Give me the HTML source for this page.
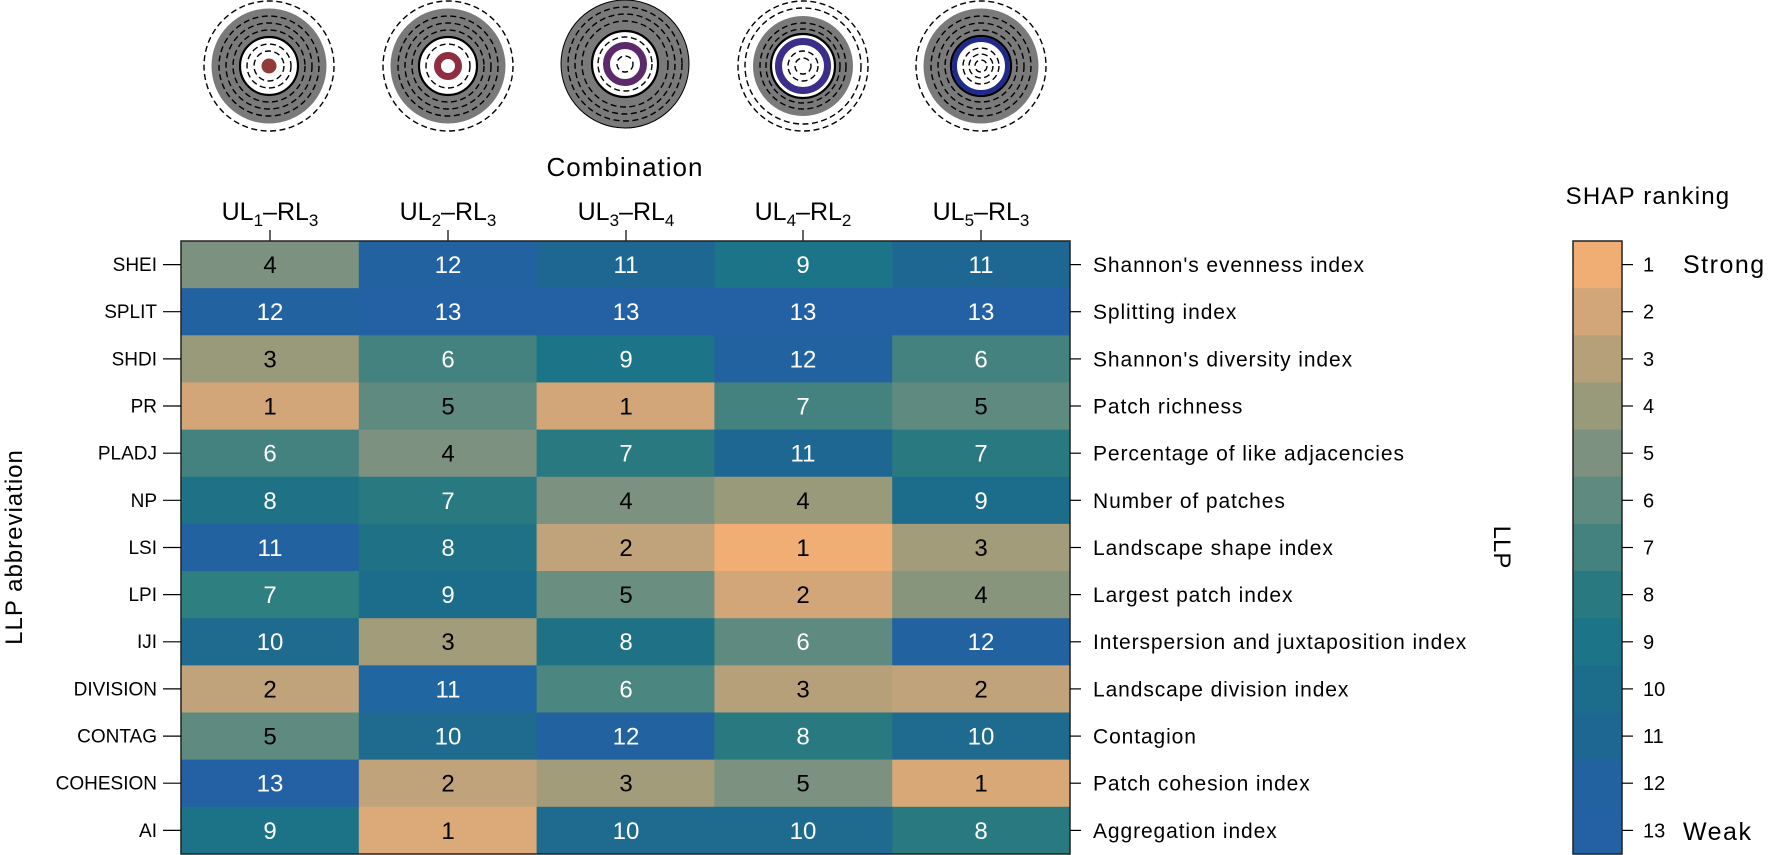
<!DOCTYPE html>
<html><head><meta charset="utf-8"><style>
html,body{margin:0;padding:0;background:#fff}
svg{display:block;font-family:"Liberation Sans",sans-serif}
.c{fill:none;stroke:#000;stroke-width:1.4;stroke-dasharray:6 3.5}
.n{font-size:24px;text-anchor:middle}
.w{fill:#fff}
.l{font-size:19px;text-anchor:end}
.r{font-size:21px;letter-spacing:0.9px}
</style></head><body>
<svg width="1773" height="855" viewBox="0 0 1773 855" xmlns="http://www.w3.org/2000/svg">
<g transform="translate(269,66)">
<circle class="c" r="65"/><circle r="57.5" fill="#7a7a7a"/><circle class="c" r="50"/><circle class="c" r="43"/><circle class="c" r="36"/>
<circle r="29" fill="#fff" stroke="#000" stroke-width="2.2"/><circle class="c" r="22"/><circle class="c" r="15"/><circle r="7.5" fill="#8f3b3b"/></g>
<g transform="translate(448,66)">
<circle class="c" r="65"/><circle r="57.5" fill="#7a7a7a"/><circle class="c" r="50"/><circle class="c" r="43"/><circle class="c" r="36"/>
<circle r="29" fill="#fff" stroke="#000" stroke-width="2.2"/><circle class="c" r="22"/><circle r="10.5" fill="none" stroke="#8e2e40" stroke-width="7"/></g>
<g transform="translate(625,64)">
<circle r="64" fill="#7a7a7a" stroke="#000" stroke-width="1"/><circle class="c" r="57"/><circle class="c" r="50"/><circle class="c" r="43"/>
<circle r="33" fill="#fff" stroke="#000" stroke-width="2.2"/><circle class="c" r="27"/><circle r="18.5" fill="none" stroke="#5c2a6a" stroke-width="7"/><circle class="c" r="8"/></g>
<g transform="translate(803,66)">
<circle class="c" r="65"/><circle class="c" r="58"/><circle r="50" fill="#7a7a7a"/><circle class="c" r="43"/><circle class="c" r="37"/>
<circle r="32" fill="#fff" stroke="#000" stroke-width="2.2"/><circle r="24.5" fill="none" stroke="#3b2d8a" stroke-width="7"/><circle class="c" r="15"/><circle class="c" r="8"/></g>
<g transform="translate(981,66)">
<circle class="c" r="65"/><circle r="57.5" fill="#7a7a7a"/><circle class="c" r="50"/><circle class="c" r="43"/><circle class="c" r="36"/>
<circle r="30" fill="#fff" stroke="#000" stroke-width="2.2"/><circle r="26.5" fill="none" stroke="#1f2a8c" stroke-width="5"/><circle class="c" r="18"/><circle class="c" r="12"/><circle class="c" r="6"/></g>

<text x="625" y="176" font-size="26" letter-spacing="1" text-anchor="middle">Combination</text>
<g font-size="25" text-anchor="middle">
<text x="270" y="220">UL<tspan font-size="17" dy="6">1</tspan><tspan dy="-6">–RL</tspan><tspan font-size="17" dy="6">3</tspan></text>
<text x="448" y="220">UL<tspan font-size="17" dy="6">2</tspan><tspan dy="-6">–RL</tspan><tspan font-size="17" dy="6">3</tspan></text>
<text x="626" y="220">UL<tspan font-size="17" dy="6">3</tspan><tspan dy="-6">–RL</tspan><tspan font-size="17" dy="6">4</tspan></text>
<text x="803" y="220">UL<tspan font-size="17" dy="6">4</tspan><tspan dy="-6">–RL</tspan><tspan font-size="17" dy="6">2</tspan></text>
<text x="981" y="220">UL<tspan font-size="17" dy="6">5</tspan><tspan dy="-6">–RL</tspan><tspan font-size="17" dy="6">3</tspan></text>
</g>
<g stroke="#000" stroke-width="1.2">
<line x1="270" y1="230" x2="270" y2="241"/><line x1="448" y1="230" x2="448" y2="241"/><line x1="626" y1="230" x2="626" y2="241"/><line x1="803" y1="230" x2="803" y2="241"/><line x1="981" y1="230" x2="981" y2="241"/>
</g>

<g transform="translate(0,241)">
<rect x="181" width="178.8" height="48" fill="#7c917f"/><rect x="358.8" width="178.8" height="48" fill="#2362a0"/><rect x="536.6" width="178.8" height="48" fill="#1f6793"/><rect x="714.4" width="178.8" height="48" fill="#1b7487"/><rect x="892.2" width="177.8" height="48" fill="#1f6793"/>
<text class="n" x="270" y="32">4</text><text class="n w" x="448" y="32">12</text><text class="n w" x="626" y="32">11</text><text class="n w" x="803" y="32">9</text><text class="n w" x="981" y="32">11</text>
<text class="l" x="157" y="30">SHEI</text><text class="r" x="1093" y="31">Shannon's evenness index</text></g>
<g transform="translate(0,288.15)">
<rect x="181" width="178.8" height="48" fill="#2362a0"/><rect x="358.8" width="178.8" height="48" fill="#2460a4"/><rect x="536.6" width="178.8" height="48" fill="#2460a4"/><rect x="714.4" width="178.8" height="48" fill="#2460a4"/><rect x="892.2" width="177.8" height="48" fill="#2460a4"/>
<text class="n w" x="270" y="32">12</text><text class="n w" x="448" y="32">13</text><text class="n w" x="626" y="32">13</text><text class="n w" x="803" y="32">13</text><text class="n w" x="981" y="32">13</text>
<text class="l" x="157" y="30">SPLIT</text><text class="r" x="1093" y="31">Splitting index</text></g>
<g transform="translate(0,335.3)">
<rect x="181" width="178.8" height="48" fill="#999a7a"/><rect x="358.8" width="178.8" height="48" fill="#43827e"/><rect x="536.6" width="178.8" height="48" fill="#1b7487"/><rect x="714.4" width="178.8" height="48" fill="#2362a0"/><rect x="892.2" width="177.8" height="48" fill="#43827e"/>
<text class="n" x="270" y="32">3</text><text class="n w" x="448" y="32">6</text><text class="n w" x="626" y="32">9</text><text class="n w" x="803" y="32">12</text><text class="n w" x="981" y="32">6</text>
<text class="l" x="157" y="30">SHDI</text><text class="r" x="1093" y="31">Shannon's diversity index</text></g>
<g transform="translate(0,382.45)">
<rect x="181" width="178.8" height="48" fill="#d2a679"/><rect x="358.8" width="178.8" height="48" fill="#5f8a7f"/><rect x="536.6" width="178.8" height="48" fill="#d2a679"/><rect x="714.4" width="178.8" height="48" fill="#43827e"/><rect x="892.2" width="177.8" height="48" fill="#5f8a7f"/>
<text class="n" x="270" y="32">1</text><text class="n" x="448" y="32">5</text><text class="n" x="626" y="32">1</text><text class="n w" x="803" y="32">7</text><text class="n" x="981" y="32">5</text>
<text class="l" x="157" y="30">PR</text><text class="r" x="1093" y="31">Patch richness</text></g>
<g transform="translate(0,429.6)">
<rect x="181" width="178.8" height="48" fill="#43827e"/><rect x="358.8" width="178.8" height="48" fill="#7c917f"/><rect x="536.6" width="178.8" height="48" fill="#287a80"/><rect x="714.4" width="178.8" height="48" fill="#1f6793"/><rect x="892.2" width="177.8" height="48" fill="#287a80"/>
<text class="n w" x="270" y="32">6</text><text class="n" x="448" y="32">4</text><text class="n w" x="626" y="32">7</text><text class="n w" x="803" y="32">11</text><text class="n w" x="981" y="32">7</text>
<text class="l" x="157" y="30">PLADJ</text><text class="r" x="1093" y="31">Percentage of like adjacencies</text></g>
<g transform="translate(0,476.75)">
<rect x="181" width="178.8" height="48" fill="#1f7285"/><rect x="358.8" width="178.8" height="48" fill="#287a80"/><rect x="536.6" width="178.8" height="48" fill="#7c917f"/><rect x="714.4" width="178.8" height="48" fill="#999a7a"/><rect x="892.2" width="177.8" height="48" fill="#1c6d8c"/>
<text class="n w" x="270" y="32">8</text><text class="n w" x="448" y="32">7</text><text class="n" x="626" y="32">4</text><text class="n" x="803" y="32">4</text><text class="n w" x="981" y="32">9</text>
<text class="l" x="157" y="30">NP</text><text class="r" x="1093" y="31">Number of patches</text></g>
<g transform="translate(0,523.9)">
<rect x="181" width="178.8" height="48" fill="#2362a0"/><rect x="358.8" width="178.8" height="48" fill="#1f7285"/><rect x="536.6" width="178.8" height="48" fill="#c0a37a"/><rect x="714.4" width="178.8" height="48" fill="#f0ae74"/><rect x="892.2" width="177.8" height="48" fill="#a39c7a"/>
<text class="n w" x="270" y="32">11</text><text class="n w" x="448" y="32">8</text><text class="n" x="626" y="32">2</text><text class="n" x="803" y="32">1</text><text class="n" x="981" y="32">3</text>
<text class="l" x="157" y="30">LSI</text><text class="r" x="1093" y="31">Landscape shape index</text></g>
<g transform="translate(0,571.05)">
<rect x="181" width="178.8" height="48" fill="#2d7f80"/><rect x="358.8" width="178.8" height="48" fill="#1c6d8c"/><rect x="536.6" width="178.8" height="48" fill="#6a8e80"/><rect x="714.4" width="178.8" height="48" fill="#d2a679"/><rect x="892.2" width="177.8" height="48" fill="#88957d"/>
<text class="n w" x="270" y="32">7</text><text class="n w" x="448" y="32">9</text><text class="n" x="626" y="32">5</text><text class="n" x="803" y="32">2</text><text class="n" x="981" y="32">4</text>
<text class="l" x="157" y="30">LPI</text><text class="r" x="1093" y="31">Largest patch index</text></g>
<g transform="translate(0,618.2)">
<rect x="181" width="178.8" height="48" fill="#1f6b8f"/><rect x="358.8" width="178.8" height="48" fill="#a39c7a"/><rect x="536.6" width="178.8" height="48" fill="#1f7285"/><rect x="714.4" width="178.8" height="48" fill="#5f8a7f"/><rect x="892.2" width="177.8" height="48" fill="#2362a0"/>
<text class="n w" x="270" y="32">10</text><text class="n" x="448" y="32">3</text><text class="n w" x="626" y="32">8</text><text class="n w" x="803" y="32">6</text><text class="n w" x="981" y="32">12</text>
<text class="l" x="157" y="30">IJI</text><text class="r" x="1093" y="31">Interspersion and juxtaposition index</text></g>
<g transform="translate(0,665.35)">
<rect x="181" width="178.8" height="48" fill="#c0a37a"/><rect x="358.8" width="178.8" height="48" fill="#2066a0"/><rect x="536.6" width="178.8" height="48" fill="#4c8680"/><rect x="714.4" width="178.8" height="48" fill="#b5a07a"/><rect x="892.2" width="177.8" height="48" fill="#c0a37a"/>
<text class="n" x="270" y="32">2</text><text class="n w" x="448" y="32">11</text><text class="n w" x="626" y="32">6</text><text class="n" x="803" y="32">3</text><text class="n" x="981" y="32">2</text>
<text class="l" x="157" y="30">DIVISION</text><text class="r" x="1093" y="31">Landscape division index</text></g>
<g transform="translate(0,712.5)">
<rect x="181" width="178.8" height="48" fill="#5f8a7f"/><rect x="358.8" width="178.8" height="48" fill="#1f6b8f"/><rect x="536.6" width="178.8" height="48" fill="#2362a0"/><rect x="714.4" width="178.8" height="48" fill="#287a80"/><rect x="892.2" width="177.8" height="48" fill="#1f6b8f"/>
<text class="n" x="270" y="32">5</text><text class="n w" x="448" y="32">10</text><text class="n w" x="626" y="32">12</text><text class="n w" x="803" y="32">8</text><text class="n w" x="981" y="32">10</text>
<text class="l" x="157" y="30">CONTAG</text><text class="r" x="1093" y="31">Contagion</text></g>
<g transform="translate(0,759.65)">
<rect x="181" width="178.8" height="48" fill="#2460a4"/><rect x="358.8" width="178.8" height="48" fill="#c0a37a"/><rect x="536.6" width="178.8" height="48" fill="#a39c7a"/><rect x="714.4" width="178.8" height="48" fill="#7c917f"/><rect x="892.2" width="177.8" height="48" fill="#d8a877"/>
<text class="n w" x="270" y="32">13</text><text class="n" x="448" y="32">2</text><text class="n" x="626" y="32">3</text><text class="n" x="803" y="32">5</text><text class="n" x="981" y="32">1</text>
<text class="l" x="157" y="30">COHESION</text><text class="r" x="1093" y="31">Patch cohesion index</text></g>
<g transform="translate(0,806.8)">
<rect x="181" width="178.8" height="47.2" fill="#1c7388"/><rect x="358.8" width="178.8" height="47.2" fill="#dcaa78"/><rect x="536.6" width="178.8" height="47.2" fill="#1f6b8f"/><rect x="714.4" width="178.8" height="47.2" fill="#1f6b8f"/><rect x="892.2" width="177.8" height="47.2" fill="#287a80"/>
<text class="n w" x="270" y="32">9</text><text class="n" x="448" y="32">1</text><text class="n w" x="626" y="32">10</text><text class="n w" x="803" y="32">10</text><text class="n w" x="981" y="32">8</text>
<text class="l" x="157" y="30">AI</text><text class="r" x="1093" y="31">Aggregation index</text></g>
<rect x="181" y="241" width="889" height="613" fill="none" stroke="#222" stroke-width="1.5"/>
<g stroke="#000" stroke-width="1.2">
<line x1="163" x2="181" y1="264.6" y2="264.6"/><line x1="163" x2="181" y1="311.7" y2="311.7"/><line x1="163" x2="181" y1="358.9" y2="358.9"/><line x1="163" x2="181" y1="406" y2="406"/><line x1="163" x2="181" y1="453.2" y2="453.2"/><line x1="163" x2="181" y1="500.3" y2="500.3"/><line x1="163" x2="181" y1="547.5" y2="547.5"/><line x1="163" x2="181" y1="594.6" y2="594.6"/><line x1="163" x2="181" y1="641.8" y2="641.8"/><line x1="163" x2="181" y1="688.9" y2="688.9"/><line x1="163" x2="181" y1="736.1" y2="736.1"/><line x1="163" x2="181" y1="783.2" y2="783.2"/><line x1="163" x2="181" y1="830.4" y2="830.4"/>
<line x1="1070" x2="1081" y1="264.6" y2="264.6"/><line x1="1070" x2="1081" y1="311.7" y2="311.7"/><line x1="1070" x2="1081" y1="358.9" y2="358.9"/><line x1="1070" x2="1081" y1="406" y2="406"/><line x1="1070" x2="1081" y1="453.2" y2="453.2"/><line x1="1070" x2="1081" y1="500.3" y2="500.3"/><line x1="1070" x2="1081" y1="547.5" y2="547.5"/><line x1="1070" x2="1081" y1="594.6" y2="594.6"/><line x1="1070" x2="1081" y1="641.8" y2="641.8"/><line x1="1070" x2="1081" y1="688.9" y2="688.9"/><line x1="1070" x2="1081" y1="736.1" y2="736.1"/><line x1="1070" x2="1081" y1="783.2" y2="783.2"/><line x1="1070" x2="1081" y1="830.4" y2="830.4"/>
</g>
<text transform="translate(22,547) rotate(-90)" font-size="24" letter-spacing="1" text-anchor="middle">LLP abbreviation</text>
<text transform="translate(1494,547) rotate(90)" font-size="24" text-anchor="middle">LLP</text>

<text x="1648" y="204" font-size="24" letter-spacing="1.2" text-anchor="middle">SHAP ranking</text>
<g>
<rect x="1573" y="241" width="49" height="48" fill="#f0ae74"/>
<rect x="1573" y="288.15" width="49" height="48" fill="#d2a679"/>
<rect x="1573" y="335.3" width="49" height="48" fill="#b5a07a"/>
<rect x="1573" y="382.45" width="49" height="48" fill="#999a7a"/>
<rect x="1573" y="429.6" width="49" height="48" fill="#7c917f"/>
<rect x="1573" y="476.75" width="49" height="48" fill="#5f8a7f"/>
<rect x="1573" y="523.9" width="49" height="48" fill="#43827e"/>
<rect x="1573" y="571.05" width="49" height="48" fill="#287a80"/>
<rect x="1573" y="618.2" width="49" height="48" fill="#1b7487"/>
<rect x="1573" y="665.35" width="49" height="48" fill="#1c6d8c"/>
<rect x="1573" y="712.5" width="49" height="48" fill="#1f6793"/>
<rect x="1573" y="759.65" width="49" height="48" fill="#2362a0"/>
<rect x="1573" y="806.8" width="49" height="47.2" fill="#2460a4"/>
</g>
<rect x="1573" y="241" width="49" height="613" fill="none" stroke="#222" stroke-width="1.5"/>
<g stroke="#000" stroke-width="1.2">
<line x1="1622" x2="1633" y1="264.6" y2="264.6"/><line x1="1622" x2="1633" y1="311.7" y2="311.7"/><line x1="1622" x2="1633" y1="358.9" y2="358.9"/><line x1="1622" x2="1633" y1="406" y2="406"/><line x1="1622" x2="1633" y1="453.2" y2="453.2"/><line x1="1622" x2="1633" y1="500.3" y2="500.3"/><line x1="1622" x2="1633" y1="547.5" y2="547.5"/><line x1="1622" x2="1633" y1="594.6" y2="594.6"/><line x1="1622" x2="1633" y1="641.8" y2="641.8"/><line x1="1622" x2="1633" y1="688.9" y2="688.9"/><line x1="1622" x2="1633" y1="736.1" y2="736.1"/><line x1="1622" x2="1633" y1="783.2" y2="783.2"/><line x1="1622" x2="1633" y1="830.4" y2="830.4"/>
</g>
<g font-size="20">
<text x="1643" y="271.6">1</text><text x="1643" y="318.7">2</text><text x="1643" y="365.9">3</text><text x="1643" y="413">4</text><text x="1643" y="460.2">5</text><text x="1643" y="507.3">6</text><text x="1643" y="554.5">7</text><text x="1643" y="601.6">8</text><text x="1643" y="648.8">9</text><text x="1643" y="695.9">10</text><text x="1643" y="743.1">11</text><text x="1643" y="790.2">12</text><text x="1643" y="837.4">13</text>
</g>
<text x="1683" y="273" font-size="25" letter-spacing="1.5">Strong</text>
<text x="1683" y="840" font-size="25" letter-spacing="1.5">Weak</text>
</svg>
</body></html>
